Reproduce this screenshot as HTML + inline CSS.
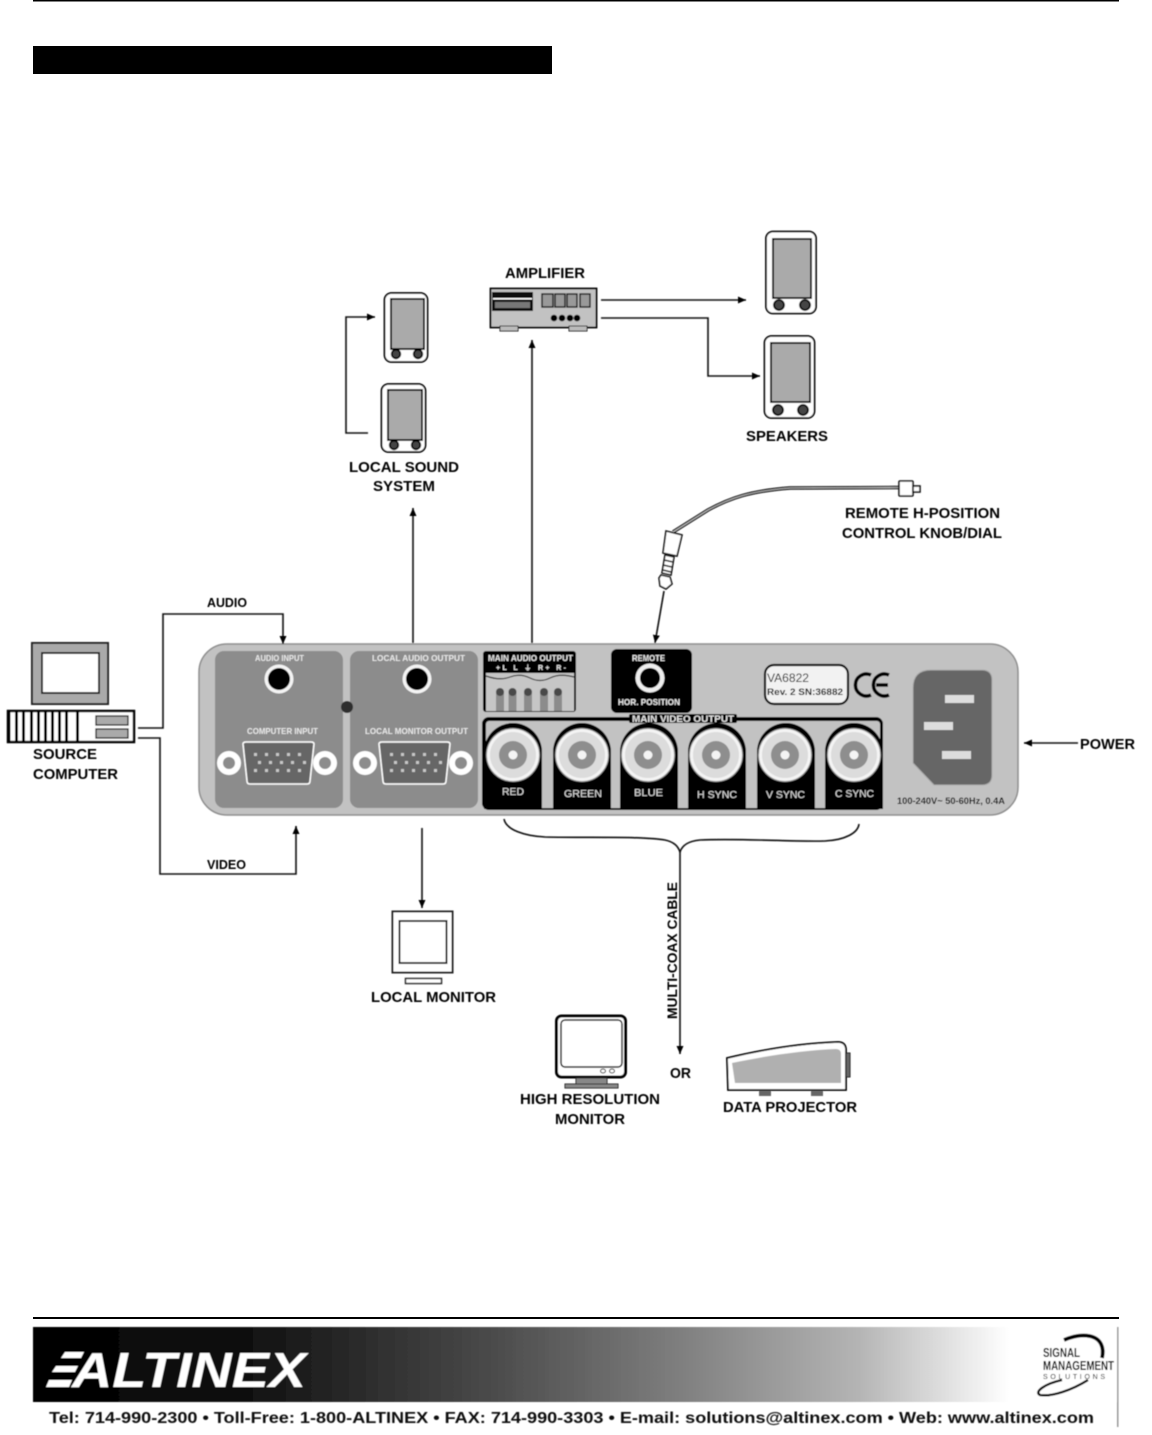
<!DOCTYPE html>
<html><head><meta charset="utf-8"><style>
html,body{margin:0;padding:0;background:#fff}
svg{display:block}
text{font-family:"Liberation Sans",sans-serif;font-weight:bold}
.n text,text.n{font-weight:normal}
</style></head><body>
<svg xmlns="http://www.w3.org/2000/svg" width="1152" height="1435" viewBox="0 0 1152 1435">
<defs>
<linearGradient id="g" x1="0" x2="1" y1="0" y2="0">
<stop offset="0" stop-color="#000"/><stop offset=".2" stop-color="#111"/><stop offset=".42" stop-color="#4a4a4a"/><stop offset=".6" stop-color="#808080"/><stop offset=".76" stop-color="#b4b4b4"/><stop offset=".9" stop-color="#fff"/><stop offset="1" stop-color="#fff"/>
</linearGradient>
<filter id="b" x="-2%" y="-2%" width="104%" height="104%"><feGaussianBlur stdDeviation="0.45"/></filter>
<marker id="a" markerUnits="userSpaceOnUse" markerWidth="10" markerHeight="10" refX="8" refY="4" orient="auto"><path d="M0 0.500L8 4L0 7.500z" fill="#000"/></marker>
</defs>
<rect x="33" y="0" width="1086" height="1.500" fill="#000"/>
<rect x="33" y="46" width="519" height="28" fill="#000"/>
<g filter="url(#b)">
<!-- panel -->
<rect x="199" y="644" width="819" height="171" rx="28" fill="#c2c2c2" stroke="#8e8e8e" stroke-width="1.500"/>
<rect x="215" y="651" width="128" height="157" rx="9" fill="#8c8c8c"/>
<rect x="350" y="651" width="128" height="157" rx="9" fill="#8c8c8c"/>
<circle cx="347" cy="707" r="6" fill="#2e2e2e"/>
<g fill="#e8e8e8" font-size="8.500">
<text x="255" y="661" textLength="49" lengthAdjust="spacingAndGlyphs">AUDIO INPUT</text>
<text x="372" y="661" textLength="93" lengthAdjust="spacingAndGlyphs">LOCAL AUDIO  OUTPUT</text>
<text x="247" y="734" textLength="71" lengthAdjust="spacingAndGlyphs">COMPUTER INPUT</text>
<text x="365" y="734" textLength="103" lengthAdjust="spacingAndGlyphs">LOCAL MONITOR OUTPUT</text>
</g>
<circle cx="279" cy="679" r="14.500" fill="#f4f4f4"/><circle cx="279" cy="679" r="11" fill="#000"/>
<circle cx="417" cy="679" r="14.500" fill="#f4f4f4"/><circle cx="417" cy="679" r="11" fill="#000"/>
<!-- DB connectors -->
<g>
<circle cx="229" cy="763" r="12" fill="#fff"/><circle cx="229" cy="763" r="6" fill="#8c8c8c"/>
<circle cx="325" cy="763" r="12" fill="#fff"/><circle cx="325" cy="763" r="6" fill="#8c8c8c"/>
<path d="M243 744Q243 742 246 742H311Q314 742 314 744L310 781Q310 784 307 784H250Q247 784 247 781Z" fill="#666" stroke="#fff" stroke-width="1.500"/>
<g fill="#c8c8c8"><rect x="254" y="753" width="3" height="3"/><rect x="265" y="753" width="3" height="3"/><rect x="276" y="753" width="3" height="3"/><rect x="287" y="753" width="3" height="3"/><rect x="298" y="753" width="3" height="3"/><rect x="258" y="761" width="3" height="3"/><rect x="269" y="761" width="3" height="3"/><rect x="280" y="761" width="3" height="3"/><rect x="291" y="761" width="3" height="3"/><rect x="303" y="761" width="3" height="3"/><rect x="254" y="769" width="3" height="3"/><rect x="265" y="769" width="3" height="3"/><rect x="276" y="769" width="3" height="3"/><rect x="287" y="769" width="3" height="3"/><rect x="298" y="769" width="3" height="3"/></g>
</g>
<g transform="translate(136,0)">
<circle cx="229" cy="763" r="12" fill="#fff"/><circle cx="229" cy="763" r="6" fill="#8c8c8c"/>
<circle cx="325" cy="763" r="12" fill="#fff"/><circle cx="325" cy="763" r="6" fill="#8c8c8c"/>
<path d="M243 744Q243 742 246 742H311Q314 742 314 744L310 781Q310 784 307 784H250Q247 784 247 781Z" fill="#666" stroke="#fff" stroke-width="1.500"/>
<g fill="#c8c8c8"><rect x="254" y="753" width="3" height="3"/><rect x="265" y="753" width="3" height="3"/><rect x="276" y="753" width="3" height="3"/><rect x="287" y="753" width="3" height="3"/><rect x="298" y="753" width="3" height="3"/><rect x="258" y="761" width="3" height="3"/><rect x="269" y="761" width="3" height="3"/><rect x="280" y="761" width="3" height="3"/><rect x="291" y="761" width="3" height="3"/><rect x="303" y="761" width="3" height="3"/><rect x="254" y="769" width="3" height="3"/><rect x="265" y="769" width="3" height="3"/><rect x="276" y="769" width="3" height="3"/><rect x="287" y="769" width="3" height="3"/><rect x="298" y="769" width="3" height="3"/></g>
</g>
<!-- main audio output -->
<rect x="483" y="651" width="93" height="61" rx="3" fill="#000"/>
<rect x="486" y="673" width="88" height="38" fill="#c6c6c6"/>
<path d="M486 676Q500 681 510 677T530 678T550 678T574 677" fill="none" stroke="#333" stroke-width="1.200"/>
<g fill="#8c8c8c"><rect x="496" y="692" width="8" height="19"/><rect x="508.500" y="692" width="8" height="19"/><rect x="524" y="692" width="8" height="19"/><rect x="540" y="692" width="8" height="19"/><rect x="554" y="692" width="8" height="19"/></g>
<g fill="#4a4a4a"><circle cx="500" cy="692" r="4"/><circle cx="512.500" cy="692" r="4"/><circle cx="528" cy="692" r="4"/><circle cx="544" cy="692" r="4"/><circle cx="558" cy="692" r="4"/></g>
<g fill="#e8e8e8" font-size="8">
<text x="488" y="661" textLength="85" lengthAdjust="spacingAndGlyphs">MAIN AUDIO OUTPUT</text>
<text x="496" y="670" textLength="70" lengthAdjust="spacing" font-size="7">+L  L  ⏚  R+  R-</text>
</g>
<!-- remote -->
<rect x="611" y="649" width="81" height="64" rx="6" fill="#000"/>
<circle cx="650" cy="678" r="14.500" fill="#eee"/><circle cx="650" cy="678" r="10" fill="#000"/>
<g fill="#e8e8e8" font-size="8.500">
<text x="632" y="661" textLength="33" lengthAdjust="spacingAndGlyphs">REMOTE</text>
<text x="618" y="705" textLength="62" lengthAdjust="spacingAndGlyphs">HOR. POSITION</text>
</g>
<!-- video block -->
<rect x="482" y="717" width="401" height="93" rx="7" fill="#000"/>
<rect x="486" y="721" width="394" height="87" rx="3" fill="#c2c2c2"/>
<g fill="#000">
<path d="M484 809V752A29 29 0 0 1 542 752V809Z"/>
<path d="M553 809V752A29 29 0 0 1 611 752V809Z"/>
<path d="M620 809V752A29 29 0 0 1 678 752V809Z"/>
<path d="M688 809V752A29 29 0 0 1 746 752V809Z"/>
<path d="M757 809V752A29 29 0 0 1 815 752V809Z"/>
<path d="M825 809V752A29 29 0 0 1 883 752V809Z"/>
</g>
<rect x="629" y="714" width="108" height="9" rx="2" fill="#000"/>
<text x="632" y="722" font-size="9" fill="#e4e4e4" textLength="102" lengthAdjust="spacingAndGlyphs">MAIN  VIDEO OUTPUT</text>
<g>
<circle cx="513" cy="755" r="26.500" fill="#f4f4f4" stroke="#999"/><circle cx="513" cy="755" r="23" fill="#dcdcdc"/><circle cx="513" cy="755" r="14" fill="#8e8e8e"/><circle cx="513" cy="755" r="4.500" fill="#f4f4f4"/>
<circle cx="582" cy="755" r="26.500" fill="#f4f4f4" stroke="#999"/><circle cx="582" cy="755" r="23" fill="#dcdcdc"/><circle cx="582" cy="755" r="14" fill="#8e8e8e"/><circle cx="582" cy="755" r="4.500" fill="#f4f4f4"/>
<circle cx="648" cy="755" r="26.500" fill="#f4f4f4" stroke="#999"/><circle cx="648" cy="755" r="23" fill="#dcdcdc"/><circle cx="648" cy="755" r="14" fill="#8e8e8e"/><circle cx="648" cy="755" r="4.500" fill="#f4f4f4"/>
<circle cx="716" cy="755" r="26.500" fill="#f4f4f4" stroke="#999"/><circle cx="716" cy="755" r="23" fill="#dcdcdc"/><circle cx="716" cy="755" r="14" fill="#8e8e8e"/><circle cx="716" cy="755" r="4.500" fill="#f4f4f4"/>
<circle cx="785" cy="755" r="26.500" fill="#f4f4f4" stroke="#999"/><circle cx="785" cy="755" r="23" fill="#dcdcdc"/><circle cx="785" cy="755" r="14" fill="#8e8e8e"/><circle cx="785" cy="755" r="4.500" fill="#f4f4f4"/>
<circle cx="854" cy="755" r="26.500" fill="#f4f4f4" stroke="#999"/><circle cx="854" cy="755" r="23" fill="#dcdcdc"/><circle cx="854" cy="755" r="14" fill="#8e8e8e"/><circle cx="854" cy="755" r="4.500" fill="#f4f4f4"/>
</g>
<g class="n" fill="#e0e0e0" font-size="10.500">
<text x="502" y="795" textLength="22" lengthAdjust="spacingAndGlyphs">RED</text>
<text x="564" y="797" textLength="38" lengthAdjust="spacingAndGlyphs">GREEN</text>
<text x="634" y="796" textLength="29" lengthAdjust="spacingAndGlyphs">BLUE</text>
<text x="697" y="798" textLength="40" lengthAdjust="spacingAndGlyphs">H SYNC</text>
<text x="766" y="798" textLength="39" lengthAdjust="spacingAndGlyphs">V SYNC</text>
<text x="835" y="797" textLength="39" lengthAdjust="spacingAndGlyphs">C SYNC</text>
</g>
<!-- label -->
<rect x="765" y="665" width="83" height="39" rx="9" fill="#f2f2f2" stroke="#000" stroke-width="2.200"/>
<text class="n" x="767" y="682" font-size="12" fill="#111" textLength="42" lengthAdjust="spacingAndGlyphs">VA6822</text>
<text x="767" y="695" font-size="9.500" fill="#111" textLength="76" lengthAdjust="spacingAndGlyphs">Rev. 2 SN:36882</text>
<path d="M871 675A11 11 0 1 0 871 695" fill="none" stroke="#000" stroke-width="3.600"/>
<path d="M889 675A11 11 0 1 0 889 695M876 685H888" fill="none" stroke="#000" stroke-width="3.600"/>
<!-- power -->
<path d="M931 670H982Q992 670 992 680V775Q992 785 982 785H934L913 763V688Q913 670 931 670Z" fill="#666" stroke="#aaa"/>
<g fill="#ddd"><rect x="945" y="695" width="29" height="8"/><rect x="924" y="722" width="29" height="8"/><rect x="942" y="751" width="29" height="8"/></g>
<text x="897" y="804" font-size="9" fill="#111" textLength="108" lengthAdjust="spacingAndGlyphs">100-240V~ 50-60Hz, 0.4A</text>

<!-- connectors -->
<g fill="none" stroke="#111" stroke-width="1.600" marker-end="url(#a)">
<path d="M601 300H746"/>
<path d="M601 318H708V376H760"/>
<path d="M368 433H346V317H375"/>
<path d="M532 643V340"/>
<path d="M413 643V508"/>
<path d="M138 728H163V614H283V644"/>
<path d="M138 738H160V874H296V826"/>
<path d="M422 828V908"/>
<path d="M1078 743H1024"/>
<path d="M680 850V1054"/>
<path d="M664 591L655 643"/>
</g>
<path d="M504 819C506 830 525 836 545 837C590 838 640 836 665 840C674 842 678 846 680 852C682 846 688 841 700 840C740 838 790 842 825 841C845 840 858 833 859 824" fill="none" stroke="#111" stroke-width="1.600"/>
<!-- cable -->
<path d="M673 532L708 510C730 498 750 491 790 488L900 487.500" fill="none" stroke="#111" stroke-width="3.400"/>
<path d="M673 532L708 510C730 498 750 491 790 488L900 487.500" fill="none" stroke="#ddd" stroke-width="0.800"/>
<rect x="899" y="481" width="14" height="15" rx="1" fill="#fff" stroke="#111" stroke-width="1.600"/>
<rect x="913" y="486" width="7" height="6" fill="#fff" stroke="#111" stroke-width="1.600"/>
<g fill="#fff" stroke="#111" stroke-width="1.600">
<path d="M666 531L682 535L677 556L663 553Z"/>
<path d="M665 555L674 557L671 575L662 573Z"/>
<path d="M661 575L670 577L672 584L666 589L660 586L659 578Z"/>
<path d="M664 560L673 562M663 565L672 567M663 570L671 572" fill="none"/>
</g>
<!-- speakers -->
<g stroke="#000" stroke-width="1.800">
<rect x="766" y="231.500" width="50" height="82" rx="7" fill="#fff"/><rect x="773" y="239" width="38" height="59" fill="#aaa"/><circle cx="779" cy="305" r="5" fill="#444"/><circle cx="805" cy="305" r="5" fill="#444"/>
<rect x="764.500" y="336" width="50" height="82" rx="7" fill="#fff"/><rect x="771" y="343" width="39" height="59" fill="#aaa"/><circle cx="778" cy="410" r="5" fill="#444"/><circle cx="803" cy="410" r="5" fill="#444"/>
<rect x="384.500" y="293" width="43" height="69" rx="7" fill="#fff"/><rect x="391" y="299" width="33" height="50" fill="#aaa"/><circle cx="396" cy="354" r="4.300" fill="#444"/><circle cx="418" cy="354" r="4.300" fill="#444"/>
<rect x="381.500" y="384" width="44" height="68" rx="7" fill="#fff"/><rect x="388" y="390" width="34" height="50" fill="#aaa"/><circle cx="394" cy="445" r="4.300" fill="#444"/><circle cx="416" cy="445" r="4.300" fill="#444"/>
</g>
<!-- amplifier -->
<rect x="490.500" y="288.500" width="106" height="39" fill="#c2c2c2" stroke="#000" stroke-width="1.800"/>
<rect x="492" y="292" width="41" height="19" fill="#111"/><rect x="493" y="298" width="39" height="1.500" fill="#fff"/><rect x="495" y="302" width="35" height="6" fill="#777"/>
<g fill="#999" stroke="#111" stroke-width="1.400"><rect x="542" y="294" width="11" height="13"/><rect x="555" y="294" width="10" height="13"/><rect x="567" y="294" width="10" height="13"/><rect x="580" y="294" width="10" height="13"/></g>
<g fill="#000"><circle cx="554" cy="318" r="3.300"/><circle cx="562" cy="318" r="3.300"/><circle cx="570" cy="318" r="3.300"/><circle cx="577" cy="318" r="3.300"/></g>
<g fill="#bbb" stroke="#222"><rect x="500" y="326" width="18" height="5"/><rect x="569" y="326" width="18" height="5"/></g>
<!-- computer -->
<rect x="32" y="643" width="76" height="61" fill="#aaa" stroke="#222" stroke-width="2"/>
<rect x="42" y="653" width="57" height="40" fill="#fff" stroke="#222" stroke-width="2"/>
<rect x="8" y="711" width="126" height="31" fill="#fff" stroke="#000" stroke-width="2.500"/>
<g fill="#000"><rect x="8" y="711" width="2.500" height="31"/><rect x="15" y="711" width="3" height="31"/><rect x="22" y="711" width="3" height="31"/><rect x="30" y="711" width="3" height="31"/><rect x="37" y="711" width="3" height="31"/><rect x="44" y="711" width="3" height="31"/><rect x="51" y="711" width="3" height="31"/><rect x="58" y="711" width="3" height="31"/><rect x="65" y="711" width="3" height="31"/><rect x="76" y="711" width="3" height="31"/></g>
<rect x="96" y="716" width="32" height="9" fill="#aaa" stroke="#111" stroke-width="1.300"/><rect x="96" y="729" width="32" height="9" fill="#aaa" stroke="#111" stroke-width="1.300"/>
<!-- local monitor -->
<rect x="392.500" y="911.500" width="60" height="61" fill="#fff" stroke="#222" stroke-width="2"/>
<rect x="399.500" y="921" width="47" height="42" fill="#fff" stroke="#222" stroke-width="2"/>
<rect x="405.500" y="978.500" width="36" height="5" fill="#fff" stroke="#222" stroke-width="1.500"/>
<!-- HR monitor -->
<rect x="556.500" y="1016" width="69" height="61" rx="5" fill="#fff" stroke="#000" stroke-width="3"/>
<rect x="561" y="1020" width="61" height="47" rx="4" fill="#fff" stroke="#111" stroke-width="1.500"/>
<rect x="576" y="1078" width="31" height="6" fill="#888" stroke="#222"/><rect x="565" y="1084" width="53" height="4" fill="#888" stroke="#222"/>
<ellipse cx="603" cy="1071" rx="2.500" ry="2" fill="#fff" stroke="#222"/><ellipse cx="612" cy="1071" rx="2.500" ry="2" fill="#fff" stroke="#222"/>
<!-- projector -->
<path d="M727 1058C765 1049 805 1043 838 1042Q846 1042 846 1050V1090H728Z" fill="#fff" stroke="#000" stroke-width="1.800"/>
<path d="M732 1063C765 1056 805 1050 836 1049Q841 1049 841 1054V1083H735Z" fill="#b0b0b0"/>
<rect x="846" y="1053" width="4" height="24" fill="#666" stroke="#222"/>
<rect x="759" y="1091" width="12" height="5" fill="#666"/><rect x="811" y="1091" width="12" height="5" fill="#666"/>
<!-- labels -->
<g fill="#000" font-size="15">
<text x="505" y="278" textLength="80" lengthAdjust="spacingAndGlyphs">AMPLIFIER</text>
<text x="746" y="441" textLength="82" lengthAdjust="spacingAndGlyphs">SPEAKERS</text>
<text x="349" y="472" textLength="110" lengthAdjust="spacingAndGlyphs">LOCAL SOUND</text>
<text x="373" y="491" textLength="62" lengthAdjust="spacingAndGlyphs">SYSTEM</text>
<text x="845" y="518" textLength="155" lengthAdjust="spacingAndGlyphs">REMOTE H-POSITION</text>
<text x="842" y="538" textLength="160" lengthAdjust="spacingAndGlyphs">CONTROL KNOB/DIAL</text>
<text x="207" y="607" font-size="13" textLength="40" lengthAdjust="spacingAndGlyphs">AUDIO</text>
<text x="207" y="869" font-size="13" textLength="39" lengthAdjust="spacingAndGlyphs">VIDEO</text>
<text x="33" y="759" textLength="64" lengthAdjust="spacingAndGlyphs">SOURCE</text>
<text x="33" y="779" textLength="85" lengthAdjust="spacingAndGlyphs">COMPUTER</text>
<text x="1080" y="749" textLength="55" lengthAdjust="spacingAndGlyphs">POWER</text>
<text x="371" y="1002" textLength="125" lengthAdjust="spacingAndGlyphs">LOCAL MONITOR</text>
<text transform="translate(677 1019) rotate(-90)" font-size="13.500" textLength="137" lengthAdjust="spacingAndGlyphs">MULTI-COAX  CABLE</text>
<text x="670" y="1078" textLength="21" lengthAdjust="spacingAndGlyphs">OR</text>
<text x="520" y="1104" textLength="140" lengthAdjust="spacingAndGlyphs">HIGH RESOLUTION</text>
<text x="555" y="1124" textLength="70" lengthAdjust="spacingAndGlyphs">MONITOR</text>
<text x="723" y="1112" textLength="134" lengthAdjust="spacingAndGlyphs">DATA PROJECTOR</text>
</g>
</g>
<!-- footer -->
<rect x="33" y="1317" width="1086" height="2" fill="#000"/>
<g filter="url(#b)">
<rect x="33" y="1327" width="1085" height="75" fill="url(#g)"/>
<rect x="1117" y="1327" width="1.500" height="100" fill="#999"/>
<g fill="#fff">
<path d="M65 1352H84L81 1358H61Z"/><path d="M56 1366H78L75 1372H52Z"/><path d="M49 1380H72L69 1387H46Z"/>
<text x="72" y="1387" font-size="49" font-style="italic" textLength="234" lengthAdjust="spacingAndGlyphs">ALTINEX</text>
</g>
<path d="M1064 1340C1080 1333 1096 1334 1101 1344Q1104 1350 1102 1358" fill="none" stroke="#000" stroke-width="3.800"/>
<path d="M1062 1380C1044 1384 1034 1392 1040 1395C1052 1397 1072 1390 1088 1380" fill="none" stroke="#000" stroke-width="2.400"/>
<g fill="#000">
<text x="1043" y="1357" font-size="13" textLength="37" lengthAdjust="spacingAndGlyphs">SIGNAL</text>
<text x="1043" y="1370" font-size="13" textLength="71" lengthAdjust="spacingAndGlyphs">MANAGEMENT</text>
<text class="n" x="1043" y="1379" font-size="7" textLength="62" lengthAdjust="spacing">SOLUTIONS</text>
</g>
<text x="49" y="1423" font-size="15.500" fill="#111" textLength="1045" lengthAdjust="spacingAndGlyphs">Tel: 714-990-2300 • Toll-Free: 1-800-ALTINEX • FAX: 714-990-3303 • E-mail: solutions@altinex.com • Web: www.altinex.com</text>
</g>
</svg>
</body></html>
